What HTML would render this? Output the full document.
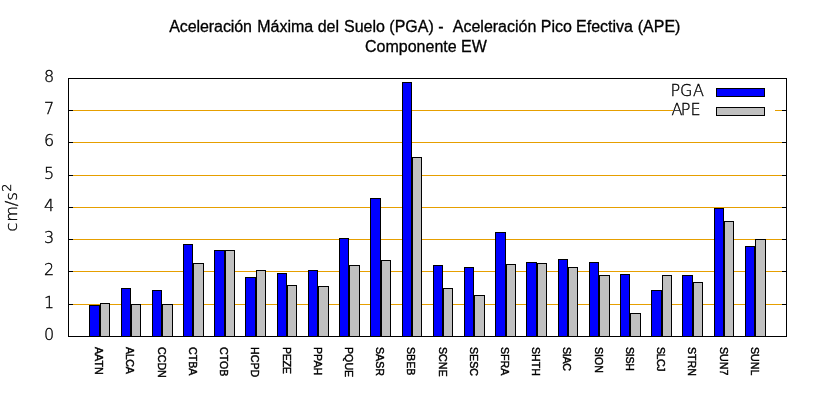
<!DOCTYPE html>
<html lang="es"><head><meta charset="utf-8"><title>Aceleración Máxima del Suelo (PGA) - Aceleración Pico Efectiva (APE)</title>
<style>html,body{margin:0;padding:0;background:#fff;overflow:hidden}svg{display:block}.t{font-family:"Liberation Sans",Arial,Helvetica,sans-serif;font-size:16px;fill:#000;stroke:#000;stroke-width:0.3px}.x{font-family:"Liberation Sans",Arial,Helvetica,sans-serif;font-size:10.67px;fill:#000;stroke:#000;stroke-width:0.42px}.y{font-family:"DejaVu Sans",Verdana,sans-serif;font-size:16px;font-weight:200;fill:#000;stroke:#000;stroke-width:0.35px}.s{shape-rendering:crispEdges}</style></head><body>
<svg width="820" height="400" viewBox="0 0 820 400">
<rect width="820" height="400" fill="#fff"/>
<text class="t" y="32"><tspan x="169.20" style="letter-spacing:-0.08px">Aceleración</tspan> <tspan x="257.25">Máxima</tspan> <tspan x="317.70">del</tspan> <tspan x="344.00">Suelo</tspan> <tspan x="389.36">(PGA)</tspan> <tspan x="438.25">-</tspan> <tspan x="452.77">Aceleración</tspan> <tspan x="540.82">Pico</tspan> <tspan x="576.09">Efectiva</tspan> <tspan x="637.75">(APE)</tspan></text>
<text class="t" x="365" y="52">Componente EW</text>
<g class="s">
<rect x="68" y="304" width="718" height="1" fill="#e69f00"/>
<rect x="68" y="271" width="718" height="1" fill="#e69f00"/>
<rect x="68" y="239" width="718" height="1" fill="#e69f00"/>
<rect x="68" y="207" width="718" height="1" fill="#e69f00"/>
<rect x="68" y="175" width="718" height="1" fill="#e69f00"/>
<rect x="68" y="142" width="718" height="1" fill="#e69f00"/>
<rect x="68" y="110" width="718" height="1" fill="#e69f00"/>
<rect x="673" y="105" width="102" height="10" fill="#fff"/>
<rect x="89.5" y="305.5" width="10" height="31" fill="#0000ff" stroke="#000" stroke-width="1"/>
<rect x="100.5" y="303.5" width="9" height="33" fill="#c0c0c0" stroke="#000" stroke-width="1"/>
<rect x="121.5" y="288.5" width="9" height="48" fill="#0000ff" stroke="#000" stroke-width="1"/>
<rect x="131.5" y="304.5" width="9" height="32" fill="#c0c0c0" stroke="#000" stroke-width="1"/>
<rect x="152.5" y="290.5" width="9" height="46" fill="#0000ff" stroke="#000" stroke-width="1"/>
<rect x="162.5" y="304.5" width="10" height="32" fill="#c0c0c0" stroke="#000" stroke-width="1"/>
<rect x="183.5" y="244.5" width="9" height="92" fill="#0000ff" stroke="#000" stroke-width="1"/>
<rect x="193.5" y="263.5" width="10" height="73" fill="#c0c0c0" stroke="#000" stroke-width="1"/>
<rect x="214.5" y="250.5" width="10" height="86" fill="#0000ff" stroke="#000" stroke-width="1"/>
<rect x="225.5" y="250.5" width="9" height="86" fill="#c0c0c0" stroke="#000" stroke-width="1"/>
<rect x="245.5" y="277.5" width="10" height="59" fill="#0000ff" stroke="#000" stroke-width="1"/>
<rect x="256.5" y="270.5" width="9" height="66" fill="#c0c0c0" stroke="#000" stroke-width="1"/>
<rect x="277.5" y="273.5" width="9" height="63" fill="#0000ff" stroke="#000" stroke-width="1"/>
<rect x="287.5" y="285.5" width="9" height="51" fill="#c0c0c0" stroke="#000" stroke-width="1"/>
<rect x="308.5" y="270.5" width="9" height="66" fill="#0000ff" stroke="#000" stroke-width="1"/>
<rect x="318.5" y="286.5" width="10" height="50" fill="#c0c0c0" stroke="#000" stroke-width="1"/>
<rect x="339.5" y="238.5" width="9" height="98" fill="#0000ff" stroke="#000" stroke-width="1"/>
<rect x="349.5" y="265.5" width="10" height="71" fill="#c0c0c0" stroke="#000" stroke-width="1"/>
<rect x="370.5" y="198.5" width="10" height="138" fill="#0000ff" stroke="#000" stroke-width="1"/>
<rect x="381.5" y="260.5" width="9" height="76" fill="#c0c0c0" stroke="#000" stroke-width="1"/>
<rect x="402.5" y="82.5" width="9" height="254" fill="#0000ff" stroke="#000" stroke-width="1"/>
<rect x="412.5" y="157.5" width="9" height="179" fill="#c0c0c0" stroke="#000" stroke-width="1"/>
<rect x="433.5" y="265.5" width="9" height="71" fill="#0000ff" stroke="#000" stroke-width="1"/>
<rect x="443.5" y="288.5" width="9" height="48" fill="#c0c0c0" stroke="#000" stroke-width="1"/>
<rect x="464.5" y="267.5" width="9" height="69" fill="#0000ff" stroke="#000" stroke-width="1"/>
<rect x="474.5" y="295.5" width="10" height="41" fill="#c0c0c0" stroke="#000" stroke-width="1"/>
<rect x="495.5" y="232.5" width="10" height="104" fill="#0000ff" stroke="#000" stroke-width="1"/>
<rect x="506.5" y="264.5" width="9" height="72" fill="#c0c0c0" stroke="#000" stroke-width="1"/>
<rect x="526.5" y="262.5" width="10" height="74" fill="#0000ff" stroke="#000" stroke-width="1"/>
<rect x="537.5" y="263.5" width="9" height="73" fill="#c0c0c0" stroke="#000" stroke-width="1"/>
<rect x="558.5" y="259.5" width="9" height="77" fill="#0000ff" stroke="#000" stroke-width="1"/>
<rect x="568.5" y="267.5" width="9" height="69" fill="#c0c0c0" stroke="#000" stroke-width="1"/>
<rect x="589.5" y="262.5" width="9" height="74" fill="#0000ff" stroke="#000" stroke-width="1"/>
<rect x="599.5" y="275.5" width="10" height="61" fill="#c0c0c0" stroke="#000" stroke-width="1"/>
<rect x="620.5" y="274.5" width="9" height="62" fill="#0000ff" stroke="#000" stroke-width="1"/>
<rect x="630.5" y="313.5" width="10" height="23" fill="#c0c0c0" stroke="#000" stroke-width="1"/>
<rect x="651.5" y="290.5" width="10" height="46" fill="#0000ff" stroke="#000" stroke-width="1"/>
<rect x="662.5" y="275.5" width="9" height="61" fill="#c0c0c0" stroke="#000" stroke-width="1"/>
<rect x="682.5" y="275.5" width="10" height="61" fill="#0000ff" stroke="#000" stroke-width="1"/>
<rect x="693.5" y="282.5" width="9" height="54" fill="#c0c0c0" stroke="#000" stroke-width="1"/>
<rect x="714.5" y="208.5" width="9" height="128" fill="#0000ff" stroke="#000" stroke-width="1"/>
<rect x="724.5" y="221.5" width="9" height="115" fill="#c0c0c0" stroke="#000" stroke-width="1"/>
<rect x="745.5" y="246.5" width="9" height="90" fill="#0000ff" stroke="#000" stroke-width="1"/>
<rect x="755.5" y="239.5" width="10" height="97" fill="#c0c0c0" stroke="#000" stroke-width="1"/>
<rect x="68" y="336" width="5" height="1" fill="#000"/>
<rect x="782" y="336" width="5" height="1" fill="#000"/>
<rect x="68" y="304" width="5" height="1" fill="#000"/>
<rect x="782" y="304" width="5" height="1" fill="#000"/>
<rect x="68" y="271" width="5" height="1" fill="#000"/>
<rect x="782" y="271" width="5" height="1" fill="#000"/>
<rect x="68" y="239" width="5" height="1" fill="#000"/>
<rect x="782" y="239" width="5" height="1" fill="#000"/>
<rect x="68" y="207" width="5" height="1" fill="#000"/>
<rect x="782" y="207" width="5" height="1" fill="#000"/>
<rect x="68" y="175" width="5" height="1" fill="#000"/>
<rect x="782" y="175" width="5" height="1" fill="#000"/>
<rect x="68" y="142" width="5" height="1" fill="#000"/>
<rect x="782" y="142" width="5" height="1" fill="#000"/>
<rect x="68" y="110" width="5" height="1" fill="#000"/>
<rect x="782" y="110" width="5" height="1" fill="#000"/>
<rect x="68" y="78" width="5" height="1" fill="#000"/>
<rect x="782" y="78" width="5" height="1" fill="#000"/>
<rect x="68.5" y="78.5" width="718" height="258" fill="none" stroke="#000" stroke-width="1"/>
<rect x="716.5" y="88.5" width="48" height="8" fill="#0000ff" stroke="#000" stroke-width="1"/>
<rect x="716.5" y="107.5" width="48" height="8" fill="#c0c0c0" stroke="#000" stroke-width="1"/>
</g>
<text class="y" x="670.5 679.9 693.06" y="96">PGA</text>
<text class="y" x="671.4 680.8 690.6" y="115">APE</text>
<text class="y" x="54.1" y="340" text-anchor="end">0</text>
<text class="y" x="54.1" y="308" text-anchor="end">1</text>
<text class="y" x="54.1" y="275" text-anchor="end">2</text>
<text class="y" x="54.1" y="243" text-anchor="end">3</text>
<text class="y" x="54.1" y="211" text-anchor="end">4</text>
<text class="y" x="54.1" y="179" text-anchor="end">5</text>
<text class="y" x="54.1" y="146" text-anchor="end">6</text>
<text class="y" x="54.1" y="114" text-anchor="end">7</text>
<text class="y" x="54.1" y="82" text-anchor="end">8</text>
<text class="y" transform="translate(17.2,230.5) rotate(-90)" x="-1.1 8.8 24.38 29.9">cm/s<tspan font-size="12.8" x="38.8" dy="-6.5">2</tspan></text>
<text class="x" transform="translate(95.10,347) rotate(90)">AATN</text>
<text class="x" transform="translate(126.32,347) rotate(90)" style="letter-spacing:-0.33px">ALCA</text>
<text class="x" transform="translate(157.53,347) rotate(90)">CCDN</text>
<text class="x" transform="translate(188.75,347) rotate(90)">CTBA</text>
<text class="x" transform="translate(219.97,347) rotate(90)">CTOB</text>
<text class="x" transform="translate(251.18,347) rotate(90)">HCPD</text>
<text class="x" transform="translate(283.10,347) rotate(90)" style="letter-spacing:-0.33px">PEZE</text>
<text class="x" transform="translate(313.82,347) rotate(90)">PPAH</text>
<text class="x" transform="translate(344.84,347) rotate(90)">PQUE</text>
<text class="x" transform="translate(376.05,347) rotate(90)">SASR</text>
<text class="x" transform="translate(407.27,347) rotate(90)">SBEB</text>
<text class="x" transform="translate(439.39,347) rotate(90)">SCNE</text>
<text class="x" transform="translate(469.70,347) rotate(90)">SESC</text>
<text class="x" transform="translate(500.92,347) rotate(90)">SFRA</text>
<text class="x" transform="translate(532.14,347) rotate(90)">SHTH</text>
<text class="x" transform="translate(563.36,347) rotate(90)" style="letter-spacing:-0.33px">SIAC</text>
<text class="x" transform="translate(594.57,347) rotate(90)">SION</text>
<text class="x" transform="translate(625.79,347) rotate(90)" style="letter-spacing:-0.33px">SISH</text>
<text class="x" transform="translate(657.01,347) rotate(90)" style="letter-spacing:-0.50px">SLCJ</text>
<text class="x" transform="translate(688.42,347) rotate(90)">STRN</text>
<text class="x" transform="translate(720.44,347) rotate(90)">SUN7</text>
<text class="x" transform="translate(750.66,347) rotate(90)">SUNL</text>
</svg></body></html>
